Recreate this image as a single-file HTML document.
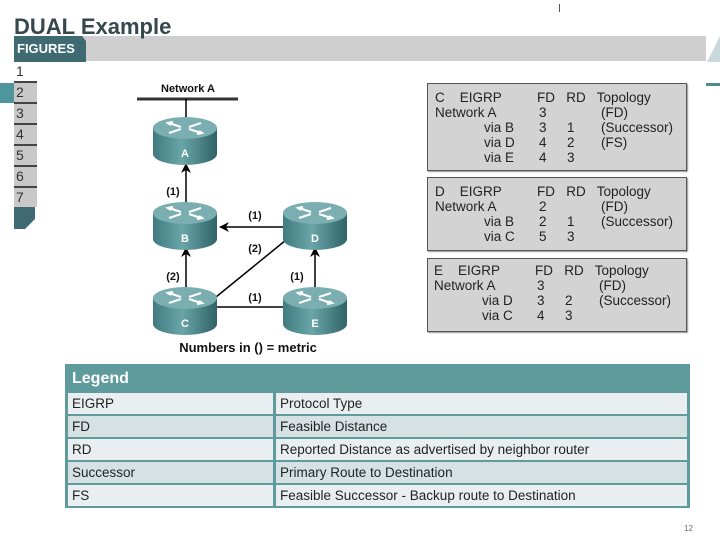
<!DOCTYPE html>
<html><head><meta charset="utf-8"><style>
body{margin:0;width:720px;height:540px;background:#fff;position:relative;overflow:hidden;font-family:"Liberation Sans",Arial,sans-serif}
.a{position:absolute}
.tb{position:absolute;left:427px;width:258px;background:#d3d3d3;border:1px solid #555;box-shadow:1px 1px 1px #999;font-size:13.5px;color:#222}
.tb div{position:absolute;white-space:pre}
.lg{position:absolute;left:65px;top:364px;width:625px;height:144px;background:#5f9a9c}
.row{position:absolute;left:3px;width:619px;height:21px;font-size:13.5px;color:#222}
.row span{position:absolute;top:3px}
.c1{left:0;width:205px;height:21px;position:absolute}
.c2{left:208px;width:411px;height:21px;position:absolute}
.n{width:21px;height:19px;background:#c8c8c8;border-top:2px solid #444;padding-left:2px;line-height:19px}
</style></head><body>
<div class="a" style="left:14px;top:36px;width:692px;height:25px;background:#cfcfcf"></div>
<div class="a" style="left:14px;top:14px;font-size:22px;font-weight:bold;color:#36484e;line-height:26px">DUAL Example</div>
<svg class="a" style="left:14px;top:36px" width="76" height="26"><polygon points="0,0 68,0 72,5 72,26 0,26" fill="#3f6a72"/></svg>
<div class="a" style="left:17px;top:41px;font-size:13px;font-weight:bold;color:#fff">FIGURES</div>
<svg class="a" style="left:704px;top:34px" width="16" height="28"><polygon points="3,28 16,2 16,28" fill="#c8d8dc"/></svg>
<div class="a" style="left:706px;top:83px;width:14px;height:3px;background:#4f8c90"></div>
<div class="a" style="left:559px;top:4px;width:1px;height:8px;background:#555"></div>
<div class="a" style="left:0;top:83px;width:14px;height:20px;background:#4f969c"></div>
<div class="a" style="left:14px;top:62px;font-size:14px;color:#333">
<div style="height:19px;line-height:19px;padding-left:2px">1</div>
<div class="n">2</div><div class="n">3</div><div class="n">4</div><div class="n">5</div><div class="n">6</div><div class="n">7</div>
</div>
<svg class="a" style="left:14px;top:207px" width="22" height="22"><polygon points="0,0 21,0 21,12 11,22 0,22" fill="#3f6a72"/></svg>

<svg class="a" style="left:0;top:0" width="420" height="360">
<defs>
<linearGradient id="g" x1="0" x2="1"><stop offset="0" stop-color="#3f7b80"/><stop offset="0.45" stop-color="#6aa5a8"/><stop offset="1" stop-color="#2f6368"/></linearGradient>
<g id="r">
<path d="M-32,0 L-32,26 A32,11 0 0 0 32,26 L32,0 Z" fill="url(#g)"/>
<ellipse cx="0" cy="0" rx="32" ry="11" fill="#7aaeb0"/>
<path d="M-16,-5 L-4,-1 M-16,5 L-4,1 M16,-5 L4,-1 M16,5 L4,1 M-12,-6 l-5,1 l3,2 M12,6 l5,-1 l-3,-2" stroke="#fff" stroke-width="2.2" fill="none"/>
</g>
<marker id="m" markerWidth="10" markerHeight="10" refX="9" refY="5" orient="auto" markerUnits="userSpaceOnUse"><path d="M0,0 L10,5 L0,10 L3,5 Z" fill="#000"/></marker>
</defs>
<line x1="137" y1="99" x2="238" y2="99" stroke="#333" stroke-width="3"/>
<line x1="186" y1="99" x2="186" y2="120" stroke="#000" stroke-width="1.5"/>
<line x1="186" y1="205" x2="186" y2="164" stroke="#000" stroke-width="1.5" marker-end="url(#m)"/>
<line x1="283" y1="227" x2="220" y2="227" stroke="#000" stroke-width="1.5" marker-end="url(#m)"/>
<line x1="186" y1="290" x2="186" y2="248" stroke="#000" stroke-width="1.5" marker-end="url(#m)"/>
<line x1="315" y1="290" x2="315" y2="248" stroke="#000" stroke-width="1.5" marker-end="url(#m)"/>
<line x1="216" y1="297" x2="286" y2="240" stroke="#000" stroke-width="1.5"/>
<line x1="217" y1="307" x2="283" y2="307" stroke="#000" stroke-width="1.5"/>
<use href="#r" x="185" y="128"/>
<use href="#r" x="185" y="213"/>
<use href="#r" x="315" y="213"/>
<use href="#r" x="185" y="298"/>
<use href="#r" x="315" y="298"/>
<g font-family="Liberation Sans,Arial,sans-serif" font-weight="bold" font-size="11" fill="#fff" text-anchor="middle">
<text x="185" y="157">A</text><text x="185" y="242">B</text><text x="315" y="242">D</text><text x="185" y="327">C</text><text x="315" y="327">E</text></g>
<g font-family="Liberation Sans,Arial,sans-serif" font-weight="bold" font-size="11" fill="#111" text-anchor="middle">
<text x="188" y="92">Network A</text>
<text x="173" y="195">(1)</text><text x="255" y="219">(1)</text><text x="255" y="252">(2)</text>
<text x="173" y="280">(2)</text><text x="297" y="280">(1)</text><text x="255" y="301">(1)</text>
</g>
<text x="248" y="352" font-family="Liberation Sans,Arial,sans-serif" font-weight="bold" font-size="13" fill="#111" text-anchor="middle">Numbers in () = metric</text>
</svg>

<div class="tb" style="top:83px;height:86px">
<div style="left:7px;top:6px">C    EIGRP</div><div style="left:109px;top:6px">FD   RD   Topology</div>
<div style="left:7px;top:21px">Network A</div><div style="left:111px;top:21px">3</div><div style="left:173px;top:21px">(FD)</div>
<div style="left:56px;top:36px">via B</div><div style="left:111px;top:36px">3</div><div style="left:139px;top:36px">1</div><div style="left:173px;top:36px">(Successor)</div>
<div style="left:56px;top:51px">via D</div><div style="left:111px;top:51px">4</div><div style="left:139px;top:51px">2</div><div style="left:173px;top:51px">(FS)</div>
<div style="left:56px;top:66px">via E</div><div style="left:111px;top:66px">4</div><div style="left:139px;top:66px">3</div>
</div>
<div class="tb" style="top:177px;height:72px">
<div style="left:7px;top:6px">D    EIGRP</div><div style="left:109px;top:6px">FD   RD   Topology</div>
<div style="left:7px;top:21px">Network A</div><div style="left:111px;top:21px">2</div><div style="left:173px;top:21px">(FD)</div>
<div style="left:56px;top:36px">via B</div><div style="left:111px;top:36px">2</div><div style="left:139px;top:36px">1</div><div style="left:173px;top:36px">(Successor)</div>
<div style="left:56px;top:51px">via C</div><div style="left:111px;top:51px">5</div><div style="left:139px;top:51px">3</div>
</div>
<div class="tb" style="top:258px;height:72px">
<div style="left:6px;top:4px">E    EIGRP</div><div style="left:107px;top:4px">FD   RD   Topology</div>
<div style="left:6px;top:19px">Network A</div><div style="left:109px;top:19px">3</div><div style="left:171px;top:19px">(FD)</div>
<div style="left:54px;top:34px">via D</div><div style="left:109px;top:34px">3</div><div style="left:137px;top:34px">2</div><div style="left:171px;top:34px">(Successor)</div>
<div style="left:54px;top:49px">via C</div><div style="left:109px;top:49px">4</div><div style="left:137px;top:49px">3</div>
</div>

<div class="lg">
<div class="a" style="left:7px;top:6px;font-size:16px;font-weight:bold;color:#fff">Legend</div>
<div class="row" style="top:29px"><div class="c1" style="background:#e9eff1"><span style="left:4px">EIGRP</span></div><div class="c2" style="background:#e9eff1"><span style="left:4px">Protocol Type</span></div></div>
<div class="row" style="top:52px"><div class="c1" style="background:#d6e1e4"><span style="left:4px">FD</span></div><div class="c2" style="background:#d6e1e4"><span style="left:4px">Feasible Distance</span></div></div>
<div class="row" style="top:75px"><div class="c1" style="background:#e9eff1"><span style="left:4px">RD</span></div><div class="c2" style="background:#e9eff1"><span style="left:4px">Reported Distance as advertised by neighbor router</span></div></div>
<div class="row" style="top:98px"><div class="c1" style="background:#d6e1e4"><span style="left:4px">Successor</span></div><div class="c2" style="background:#d6e1e4"><span style="left:4px">Primary Route to Destination</span></div></div>
<div class="row" style="top:121px"><div class="c1" style="background:#e9eff1"><span style="left:4px">FS</span></div><div class="c2" style="background:#e9eff1"><span style="left:4px">Feasible Successor - Backup route to Destination</span></div></div>
</div>
<div class="a" style="left:684px;top:524px;font-size:8px;color:#666">12</div>
</body></html>
